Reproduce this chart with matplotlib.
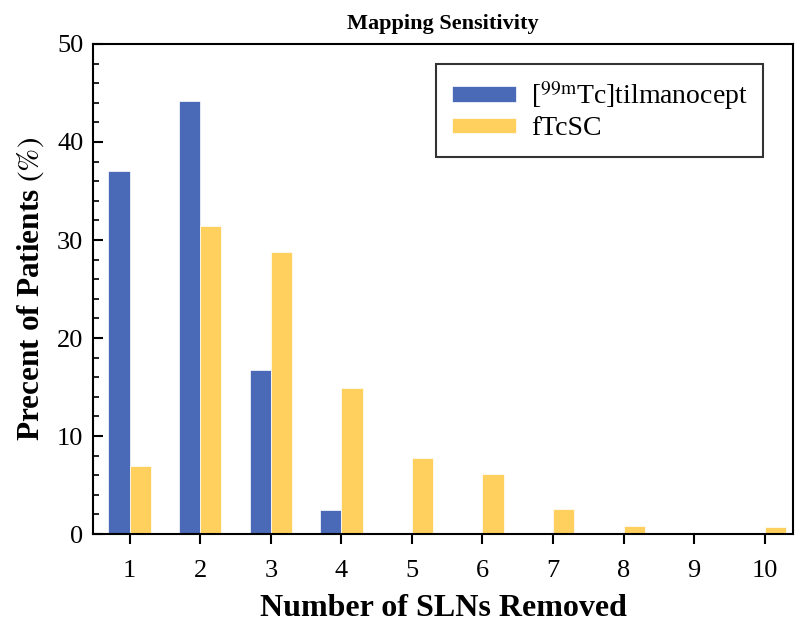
import numpy as np
import matplotlib
matplotlib.use("Agg")
from matplotlib import pyplot as plt
from matplotlib.ticker import MultipleLocator

plt.rcParams['font.family'] = ['Liberation Serif', 'DejaVu Serif']
plt.rcParams['mathtext.fontset'] = 'stix'

# data
slns = np.arange(1, 11)
tilmanocept = [37.0, 44.2, 16.7, 2.4, 0, 0, 0, 0, 0, 0]
ftcsc = [6.9, 31.4, 28.8, 14.9, 7.8, 6.1, 2.6, 0.85, 0, 0.75]
tick_labels = [str(i) for i in slns]

blue = '#4a69b6'
yellow = '#ffd05e'
w = 0.3

fig = plt.figure(figsize=(7.96, 6.24), dpi=100)
ax = fig.add_axes([0.1168, 0.1442, 0.8794, 0.7853])

ax.bar(slns - w/2, tilmanocept, width=w, color=blue, edgecolor='white', linewidth=0.5,
       label='[$^{\\mathrm{99m}}$Tc]tilmanocept')
ax.bar(slns + w/2, ftcsc, width=w, color=yellow, edgecolor='white', linewidth=0.5,
       label='fTcSC')

ax.set_xlim(0.48, 10.4)
ax.set_ylim(0, 50)
ax.set_xticks(slns)
ax.set_xticklabels(tick_labels)
ax.yaxis.set_major_locator(MultipleLocator(10))
ax.yaxis.set_minor_locator(MultipleLocator(2))

ax.tick_params(axis='y', which='major', direction='in', length=7, width=1.5, labelsize=19, pad=7)
ax.tick_params(axis='y', which='minor', direction='in', length=4.5, width=1.2)
ax.tick_params(axis='x', which='major', direction='out', length=7, width=1.5, labelsize=19, pad=12)
for s in ax.spines.values():
    s.set_linewidth(1.5)

ax.set_title('Mapping Sensitivity', fontsize=16, fontweight='bold', pad=11)
ax.set_xlabel('Number of SLNs Removed', fontsize=23, fontweight='bold', labelpad=8)
ax.set_ylabel('Precent of Patients $(\\%)$', fontsize=22.5, fontweight='bold', labelpad=8)

leg = ax.legend(loc='upper right', bbox_to_anchor=(0.957, 0.959), fontsize=20, frameon=True,
                fancybox=False, edgecolor='black', handlelength=2.3, handleheight=0.5,
                handletextpad=0.55, borderpad=0.55, labelspacing=0.15, borderaxespad=0)
leg.get_frame().set_linewidth(1.5)

fig.savefig('out.png', dpi=100)
